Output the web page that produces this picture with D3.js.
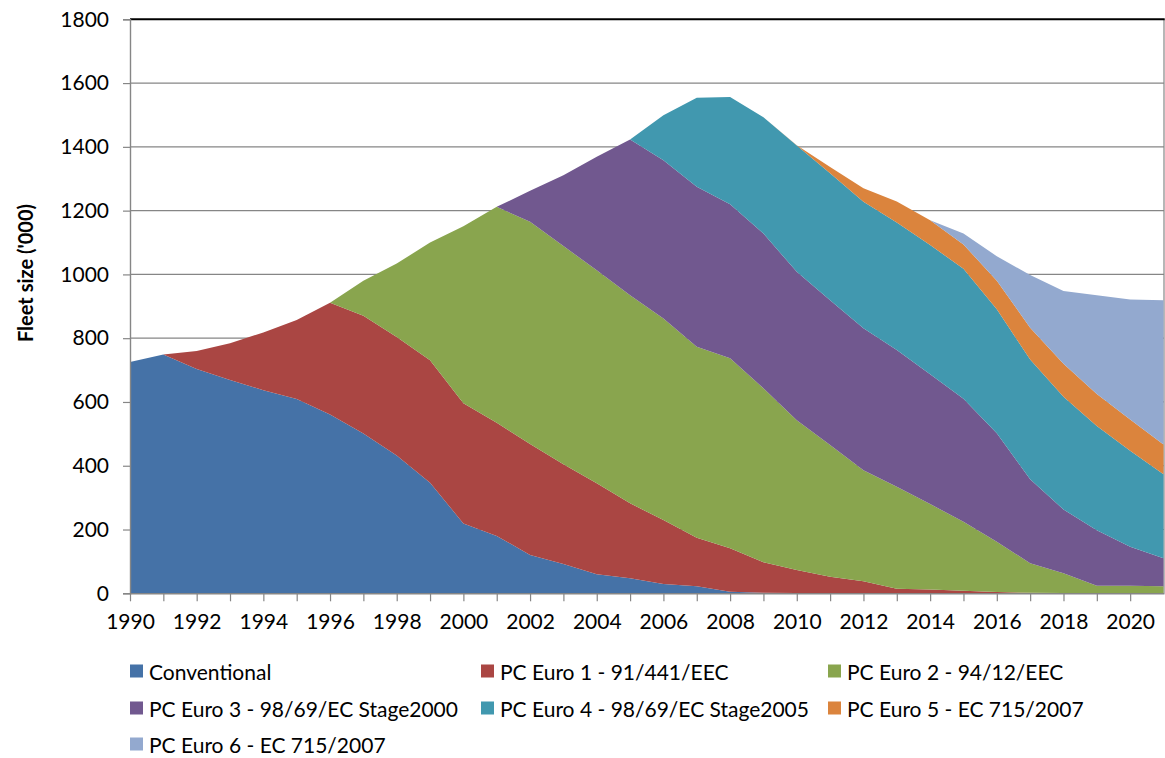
<!DOCTYPE html>
<html>
<head>
<meta charset="utf-8">
<script src="https://cdn.jsdelivr.net/npm/d3@7"></script>
<style>
  html, body { margin: 0; padding: 0; background: #fff; }
  svg text { font-family: Lato, "Open Sans", sans-serif; fill: #000; }
</style>
</head>
<body>
<svg id="chart" width="1165" height="758"></svg>
<script>
const years = d3.range(1990, 2022);
const seriesNames = [
  "Conventional",
  "PC Euro 1 - 91/441/EEC",
  "PC Euro 2 - 94/12/EEC",
  "PC Euro 3 - 98/69/EC Stage2000",
  "PC Euro 4 - 98/69/EC Stage2005",
  "PC Euro 5 - EC 715/2007",
  "PC Euro 6 - EC 715/2007"
];
const colors = ["#4572A7", "#AA4643", "#89A54E", "#71588F", "#4198AF", "#DB843D", "#93A9CF"];

// values in thousands, 1990..2021
const conventional = [725, 749, 703, 669, 637, 609, 561, 501, 432, 347, 219, 180, 120, 92, 60, 47, 29, 22, 5, 2, 1, 0, 0, 0, 0, 0, 0, 0, 0, 0, 0, 0];
const euro1 = [0, 0, 57, 115, 181, 248, 350, 369, 372, 384, 377, 355, 348, 313, 285, 235, 201, 152, 136, 95, 72, 52, 38, 14, 12, 8, 4, 2, 1, 0, 0, 0];
const euro2 = [0, 0, 0, 0, 0, 0, 0, 110, 230, 369, 555, 677, 697, 684, 668, 653, 632, 599, 596, 546, 470, 413, 348, 320, 268, 216, 158, 92, 62, 24, 24, 22];
const euro3 = [0, 0, 0, 0, 0, 0, 0, 0, 0, 0, 0, 0, 97, 222, 356, 488, 496, 502, 483, 485, 465, 454, 445, 429, 407, 386, 340, 264, 200, 174, 122, 88];
const euro4 = [0, 0, 0, 0, 0, 0, 0, 0, 0, 0, 0, 0, 0, 0, 0, 0, 141, 279, 336, 365, 396, 398, 397, 400, 405, 408, 389, 375, 353, 327, 301, 263];
const euro5 = [0, 0, 0, 0, 0, 0, 0, 0, 0, 0, 0, 0, 0, 0, 0, 0, 0, 0, 0, 0, 1, 20, 42, 66, 78, 76, 89, 100, 104, 100, 98, 94];
const euro6 = [0, 0, 0, 0, 0, 0, 0, 0, 0, 0, 0, 0, 0, 0, 0, 0, 0, 0, 0, 0, 0, 0, 0, 0, 0, 34, 77, 165, 228, 310, 376, 452];
const yTicks = [0, 200, 400, 600, 800, 1000, 1200, 1400, 1600, 1800];
const xLabelYears = d3.range(1990, 2021, 2);
const yTitle = "Fleet size ('000)";

const seriesValues = [conventional, euro1, euro2, euro3, euro4, euro5, euro6];
const table = years.map((yr, i) => {
  const row = { year: yr };
  seriesNames.forEach((n, k) => row[n] = seriesValues[k][i]);
  return row;
});

const svg = d3.select("#chart");
const pLeft = 130, pRight = 1163.5, pTop = 19.3, pBottom = 593.3;
const x = d3.scaleLinear().domain([1990, 2021]).range([pLeft, pRight]);
const y = d3.scaleLinear().domain([0, 1800]).range([pBottom, pTop]);

// gridlines
svg.append("g").selectAll("line").data(yTicks.filter(t => t > 0 && t < 1800)).join("line")
  .attr("x1", pLeft).attr("x2", pRight + 0.5)
  .attr("y1", d => y(d)).attr("y2", d => y(d))
  .attr("stroke", "#868686").attr("stroke-width", 1.2);
// right border
svg.append("line").attr("x1", pRight + 0.5).attr("x2", pRight + 0.5).attr("y1", pTop).attr("y2", pBottom)
  .attr("stroke", "#868686").attr("stroke-width", 1.2);

// stacked areas
const stack = d3.stack().keys(seriesNames);
const layers = stack(table);
const area = d3.area()
  .x(d => x(d.data.year))
  .y0(d => y(d[0]))
  .y1(d => y(d[1]));
svg.append("g").selectAll("path").data(layers).join("path")
  .attr("d", area)
  .attr("fill", (d, i) => colors[i]);

// top border
svg.append("line").attr("x1", pLeft).attr("x2", pRight + 1.2).attr("y1", pTop).attr("y2", pTop)
  .attr("stroke", "#000").attr("stroke-width", 2);

// y axis
const yAxis = d3.axisLeft(y).tickValues(yTicks).tickSize(7).tickPadding(14).tickFormat(d3.format("d"));
const gy = svg.append("g").attr("transform", `translate(${pLeft},0)`).call(yAxis);
gy.select(".domain").attr("stroke", "#868686").attr("stroke-width", 1.4);
gy.selectAll(".tick line").attr("stroke", "#868686").attr("stroke-width", 1.2);
gy.selectAll(".tick text").attr("font-size", 21).attr("font-family", "Lato, 'Open Sans', sans-serif").attr("fill", "#000");

// x axis
const xAxis = d3.axisBottom(x).tickValues(years.slice(0, 31)).tickSize(8).tickPadding(13)
  .tickFormat(d => (xLabelYears.includes(d) ? String(d) : ""));
const gx = svg.append("g").attr("transform", `translate(0,${pBottom})`).call(xAxis);
gx.select(".domain").attr("stroke", "#868686").attr("stroke-width", 1.4).attr("d", `M${pLeft},0.5H${pRight + 1}`);
gx.selectAll(".tick line").attr("stroke", "#868686").attr("stroke-width", 1.2);
gx.selectAll(".tick text").attr("font-size", 21).attr("font-family", "Lato, 'Open Sans', sans-serif").attr("fill", "#000");

// y title
svg.append("text")
  .attr("transform", "translate(25,273) rotate(-90)")
  .attr("text-anchor", "middle").attr("dominant-baseline", "central")
  .attr("font-size", 20).attr("font-weight", "bold")
  .text(yTitle);

// legend
const legX = [130, 481, 828];
const legY = [671, 708, 744];
const leg = svg.append("g").selectAll("g").data(seriesNames).join("g")
  .attr("transform", (d, i) => `translate(${legX[i % 3]},${legY[Math.floor(i / 3)]})`);
leg.append("rect").attr("x", 0).attr("y", -6.5).attr("width", 13).attr("height", 13)
  .attr("fill", (d, i) => colors[i]);
leg.append("text").attr("x", 19).attr("y", 0).attr("dominant-baseline", "central")
  .attr("font-size", 21).text(d => d);
</script>
</body>
</html>
